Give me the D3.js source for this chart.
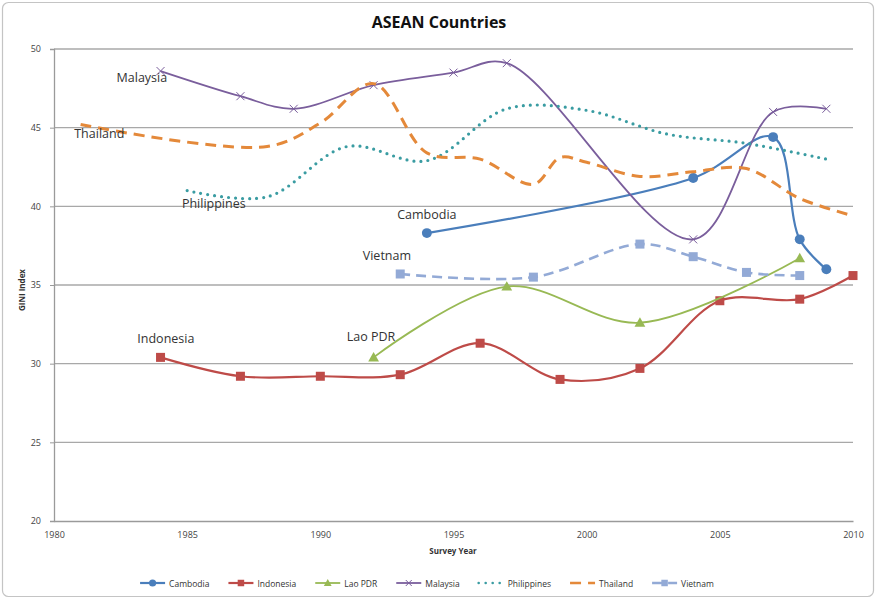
<!DOCTYPE html>
<html>
<head>
<meta charset="utf-8">
<script src="https://cdn.jsdelivr.net/npm/d3@7"></script>
<style>
  html, body { margin: 0; padding: 0; background: #fff; }
  svg { display: block; font-family: "Open Sans", "Liberation Sans", sans-serif; }
</style>
</head>
<body>
<svg id="chart" width="877" height="600"></svg>
<script>
// ---- data ----
const title = "ASEAN Countries";
const xTitle = "Survey Year";
const yTitle = "GINI Index";
const xTicks = [1980, 1985, 1990, 1995, 2000, 2005, 2010];
const yTicks = [20, 25, 30, 35, 40, 45, 50];
const seriesNames = ["Cambodia", "Indonesia", "Lao PDR", "Malaysia", "Philippines", "Thailand", "Vietnam"];

const cambodiaYears = [1994, 2004, 2007, 2008, 2009];
const cambodiaValues = [38.3, 41.8, 44.4, 37.9, 36.0];

const indonesiaYears = [1984, 1987, 1990, 1993, 1996, 1999, 2002, 2005, 2008, 2010];
const indonesiaValues = [30.4, 29.2, 29.2, 29.3, 31.3, 29.0, 29.7, 34.0, 34.1, 35.6];

const laoYears = [1992, 1997, 2002, 2008];
const laoValues = [30.4, 34.9, 32.6, 36.7];

const malaysiaYears = [1984, 1987, 1989, 1992, 1995, 1997, 2004, 2007, 2009];
const malaysiaValues = [48.6, 47.0, 46.2, 47.7, 48.5, 49.1, 37.9, 46.0, 46.2];

const philippinesYears = [1985, 1988, 1991, 1994, 1997, 2000, 2003, 2006, 2009];
const philippinesValues = [41.0, 40.6, 43.8, 42.9, 46.2, 46.1, 44.6, 44.0, 43.0];

const thailandYears = [1981, 1988, 1990, 1992, 1994, 1996, 1998, 1999, 2000, 2002, 2004, 2006, 2008, 2010];
const thailandValues = [45.2, 43.8, 45.3, 47.8, 43.4, 43.0, 41.4, 43.1, 42.8, 41.9, 42.2, 42.4, 40.5, 39.4];

const vietnamYears = [1993, 1998, 2002, 2004, 2006, 2008];
const vietnamValues = [35.7, 35.5, 37.6, 36.8, 35.8, 35.6];

// label anchor positions (same order as seriesNames)
const labelYears = [1994.0, 1984.2, 1991.9, 1983.3, 1986.0, 1981.7, 1992.5];
const labelValues = [39.45, 31.6, 31.7, 48.2, 40.15, 44.6, 36.85];

// ---- styles ----
const styles = {
  "Cambodia":    {color: "#4A7EBB", width: 2.2, dash: null, marker: "circle"},
  "Indonesia":   {color: "#BE4B48", width: 2.2, dash: null, marker: "square"},
  "Lao PDR":     {color: "#98B954", width: 1.8, dash: null, marker: "triangle"},
  "Malaysia":    {color: "#7A5E9C", width: 1.8, dash: null, marker: "x"},
  "Philippines": {color: "#3A9CA2", width: 3.2, dash: "0 7", cap: "round", marker: null},
  "Thailand":    {color: "#E4893A", width: 3.0, dash: "11 7", marker: null},
  "Vietnam":     {color: "#93AAD6", width: 2.6, dash: "10 6", marker: "square"}
};

const seriesData = [
  [cambodiaYears, cambodiaValues],
  [indonesiaYears, indonesiaValues],
  [laoYears, laoValues],
  [malaysiaYears, malaysiaValues],
  [philippinesYears, philippinesValues],
  [thailandYears, thailandValues],
  [vietnamYears, vietnamValues]
].map((d, i) => ({
  name: seriesNames[i],
  points: d[0].map((yr, j) => ({x: yr, y: d[1][j]}))
}));

const svg = d3.select("#chart");

// outer frame
svg.append("rect")
  .attr("x", 2.5).attr("y", 2.5).attr("width", 871).attr("height", 594)
  .attr("rx", 6).attr("fill", "#fff").attr("stroke", "#c4c4c4").attr("stroke-width", 1.2);

const x = d3.scaleLinear().domain([1980, 2010]).range([54, 853]);
const y = d3.scaleLinear().domain([20, 50]).range([521, 49]);

// gridlines
svg.append("g")
  .selectAll("line").data(yTicks.filter(t => t > 20)).join("line")
  .attr("x1", x(1980)).attr("x2", x(2010))
  .attr("y1", d => y(d)).attr("y2", d => y(d))
  .attr("stroke", "#a8a8a8").attr("stroke-width", 1.3);

// y axis
const yAxis = svg.append("g").attr("transform", `translate(${x(1980)},0)`)
  .call(d3.axisLeft(y).tickValues(yTicks).tickSize(4).tickPadding(9).tickFormat(d3.format("d")));
yAxis.select(".domain").attr("stroke", "#9a9a9a").attr("stroke-width", 1.3);
yAxis.selectAll(".tick line").attr("stroke", "#9a9a9a");
yAxis.selectAll("text").attr("font-size", 9).attr("fill", "#444").attr("font-family", "Open Sans, sans-serif");

// x axis
const xAxis = svg.append("g").attr("transform", `translate(0,${y(20)})`)
  .call(d3.axisBottom(x).tickValues(xTicks).tickSize(0).tickPadding(11).tickFormat(d3.format("d")));
xAxis.select(".domain").attr("stroke", "#9a9a9a").attr("stroke-width", 1.3);
xAxis.selectAll("text").attr("font-size", 9).attr("fill", "#444").attr("font-family", "Open Sans, sans-serif");

// titles
svg.append("text").attr("x", 439).attr("y", 28).attr("text-anchor", "middle")
  .attr("font-size", 16).attr("font-weight", "bold").attr("fill", "#111").text(title);

svg.append("text").attr("x", 453).attr("y", 554).attr("text-anchor", "middle")
  .attr("font-size", 8).attr("font-weight", "bold").attr("fill", "#333").text(xTitle);

svg.append("text").attr("transform", "translate(25,290) rotate(-90)").attr("text-anchor", "middle")
  .attr("font-size", 8).attr("font-weight", "bold").attr("fill", "#333").text(yTitle);

// lines
const line = d3.line().x(d => x(d.x)).y(d => y(d.y)).curve(d3.curveCatmullRom.alpha(0.5));

function drawMarker(g, type, cx, cy, color, size) {
  const s = size;
  if (type === "circle") {
    g.append("circle").attr("cx", cx).attr("cy", cy).attr("r", s * 0.55).attr("fill", color);
  } else if (type === "square") {
    g.append("rect").attr("x", cx - s / 2).attr("y", cy - s / 2).attr("width", s).attr("height", s).attr("fill", color);
  } else if (type === "triangle") {
    g.append("path").attr("d", `M${cx},${cy - s * 0.6}L${cx + s * 0.6},${cy + s * 0.45}L${cx - s * 0.6},${cy + s * 0.45}Z`).attr("fill", color);
  } else if (type === "x") {
    const h = s / 2;
    g.append("path").attr("d", `M${cx - h},${cy - h}L${cx + h},${cy + h}M${cx - h},${cy + h}L${cx + h},${cy - h}`)
      .attr("stroke", color).attr("stroke-width", 1).attr("fill", "none");
  }
}

const plot = svg.append("g");
seriesData.forEach(s => {
  const st = styles[s.name];
  const g = plot.append("g");
  g.append("path").datum(s.points).attr("d", line)
    .attr("fill", "none").attr("stroke", st.color).attr("stroke-width", st.width)
    .attr("stroke-dasharray", st.dash).attr("stroke-linecap", st.cap || "butt");
  if (st.marker) {
    s.points.forEach(p => drawMarker(g, st.marker, x(p.x), y(p.y), st.color, st.marker === "x" ? 8 : 9));
  }
});

// series labels inside plot
seriesNames.forEach((n, i) => {
  svg.append("text").attr("x", x(labelYears[i])).attr("y", y(labelValues[i]))
    .attr("text-anchor", "middle").attr("dominant-baseline", "central")
    .attr("font-size", 12.5).attr("fill", "#333").text(n);
});

// legend
const legend = svg.append("g");
let lx = 0;
const gap = 19;
seriesNames.forEach(n => {
  const st = styles[n];
  const g = legend.append("g").attr("transform", `translate(${lx},0)`);
  g.append("line").attr("x1", 0).attr("x2", 25).attr("y1", 0).attr("y2", 0)
    .attr("stroke", st.color).attr("stroke-width", Math.min(st.width, 2.6))
    .attr("stroke-dasharray", st.dash).attr("stroke-linecap", st.cap || "butt");
  if (st.marker) drawMarker(g, st.marker, 12.5, 0, st.color, st.marker === "x" ? 6 : 6.5);
  const t = g.append("text").attr("x", 29).attr("y", 0).attr("dominant-baseline", "central")
    .attr("font-size", 8.5).attr("fill", "#333").text(n);
  const w = 29 + t.node().getComputedTextLength();
  lx += w + gap;
});
const totalW = lx - gap;
legend.attr("transform", `translate(${427 - totalW / 2},583)`);
</script>
</body>
</html>
